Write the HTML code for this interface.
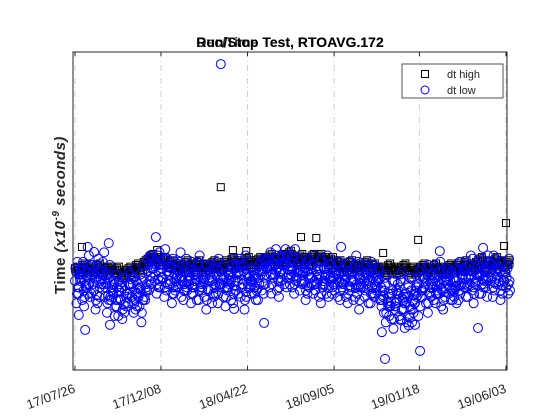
<!DOCTYPE html>
<html><head><meta charset="utf-8"><style>
body{margin:0;background:#fff;width:560px;height:420px;overflow:hidden}
svg{display:block;font-family:"Liberation Sans",sans-serif}
</style></head><body>
<svg id="c" width="560" height="420">
<rect x="0" y="0" width="560" height="420" fill="#fff"/>
<g id="grid"></g>
<g id="high"></g>
<g id="low"></g>
<rect x="73" y="52" width="434" height="318" fill="none" stroke="#262626" stroke-width="1"/>
<g id="xt"></g>
<text x="290" y="47" text-anchor="middle" font-size="14" font-weight="bold" fill="#000">Run/Stop Test, RTOAVG.172</text>
<text x="290" y="47" text-anchor="middle" font-size="14" font-weight="bold" fill="#000" opacity="0.8">Dec/Time Test, RTOAVG.172</text>
<text transform="translate(65,215) rotate(-90)" text-anchor="middle" font-size="15" font-weight="bold" fill="#262626" letter-spacing="0.5">Time  <tspan font-style="italic">(x10<tspan dy="-6" font-size="10">-9</tspan><tspan dy="6"> seconds)</tspan></tspan></text>
<g>
<rect x="402" y="64" width="101" height="34" fill="#fff" stroke="#262626" stroke-width="0.8"/>
<rect x="421.5" y="70.5" width="7" height="7" fill="none" stroke="#000"/>
<text x="447" y="78" font-size="11" fill="#262626">dt high</text>
<circle cx="425" cy="90" r="4" fill="none" stroke="#00f"/>
<text x="447" y="94" font-size="11" fill="#262626">dt low</text>
</g>
</svg>
<script>
const tickDays=[0,135,271,407,541,677];
const tickLabels=["17/07/26","17/12/08","18/04/22","18/09/05","19/01/18","19/06/03"];
const blueA=[28,26,30,27,29,25,31,27,26,29,24,26,22,25,27,23,24,26,29,31,32,30,33,29,31,28,30,27,29,31,28,26,30,27,29,25,28,30,27,29,26,29,28,31,27,30,28,26,29,31,30,33,29,32,31,34,30,32,29,31,28,31,29,27,30,28,32,29,27,30,27,29,26,28,30,27,25,28,29,26,22,25,20,24,21,26,19,23,25,21,27,25,28,26,29,24,27,28,26,25,28,30,27,29,31,28,30,27,32,29,31,28,30,29];
const blueB=[24,31,23,27,33,22,26,30,21,25,20,28,19,23,30,21,27,18,25,28,35,27,31,26,34,24,29,32,25,28,24,31,25,29,22,33,26,24,30,23,30,24,33,26,22,29,31,25,34,27,35,27,33,26,36,29,32,27,34,30,25,33,27,30,24,32,26,29,33,25,30,24,31,26,22,29,33,24,27,31,25,18,23,16,27,19,24,17,22,26,23,29,21,30,24,27,22,31,25,28,25,32,26,30,24,33,27,29,34,26,32,25,31,27];
const blueC=[31,29,25,33,24,30,28,34,27,23,27,22,26,21,24,29,20,25,23,33,29,33,26,35,27,32,25,34,28,26,31,27,33,25,30,28,24,32,29,26,28,32,25,30,33,27,24,29,27,32,32,30,35,28,30,33,27,35,31,28,31,26,33,29,32,27,30,24,31,28,25,31,28,33,26,30,27,31,23,29,20,27,17,25,22,28,21,26,15,24,29,26,30,23,27,31,25,29,28,23,31,27,29,33,26,30,32,28,29,33,27,31,28,32];
const highA=[32,31,33,32,31,32,33,31,32,32,31,32,30,31,32,31,33,32,34,35,36,35,34,35,33,34,33,32,33,34,33,32,34,33,32,33,34,33,32,34,33,35,34,33,34,35,33,34,35,34,35,36,35,34,36,35,37,35,34,36,35,34,36,35,36,35,34,35,33,34,33,32,34,33,32,33,34,32,33,32,32,31,33,32,31,32,33,31,32,31,32,33,31,32,33,32,31,32,33,32,33,32,34,33,32,34,35,33,34,33,35,34,33,34];
const highOutDays=[11,129,248,269,355,379,539,677,674,484,229];
const highOutVals=[38.7,37.7,37.7,37.4,41.8,41.5,40.9,46.2,39,36.8,57.5];
const lowOutDays=[229,53,20,30,16,6,55,68,127,482,487,542,633,297,250,418,573,641,503,511,526,518,534];
const lowOutVals=[96.2,39.9,38.7,37.1,12.6,17.3,14.2,17,41.8,11.9,3.5,6,13.2,14.8,19.2,38.7,37.4,38.4,18.9,15.7,16.4,13.2,14.2];
const NS="http://www.w3.org/2000/svg";
const X=d=>75+(d/677)*431;
const Y=v=>370-v*3.18;
function mk(t,a,p){const e=document.createElementNS(NS,t);for(const k in a)e.setAttribute(k,a[k]);p.appendChild(e);return e;}
const grid=document.getElementById('grid'),xt=document.getElementById('xt');
tickDays.forEach((d,i)=>{
 const l=mk('line',{x1:X(d),x2:X(d),y1:52,y2:370,stroke:'#d0d0d0','stroke-dasharray':'6,3,1,3'},grid);
 
 const t1=mk('line',{x1:X(d),x2:X(d),y1:370,y2:366,stroke:'#262626'},xt);
 
 const t2=mk('line',{x1:X(d),x2:X(d),y1:52,y2:56,stroke:'#262626'},xt);
 
 const tx=mk('text',{x:X(d)+1,y:392,'text-anchor':'end','font-size':13,fill:'#262626',transform:`rotate(-20 ${X(d)+1} 392)`},xt);
 tx.textContent=tickLabels[i];
 
});
const high=document.getElementById('high'),low=document.getElementById('low');
function sq(d,v){const e=mk('rect',{x:X(d)-3.5,y:Y(v)-3.5,width:7,height:7,fill:'none',stroke:'#000','stroke-width':1},high);
 }
function ci(d,v){const e=mk('circle',{cx:X(d),cy:Y(v),r:4.5,fill:'none',stroke:'#00f','stroke-width':1},low);
 }
highA.forEach((v,i)=>{sq(i*6,v);sq(i*6+1.5,v-1);sq(i*6+3,v+0.5);sq(i*6+4.5,v-0.5);});
highOutDays.forEach((d,i)=>sq(d,highOutVals[i]));
blueA.forEach((v,i)=>{
 ci(i*6,v);ci(i*6+3,blueB[i]);ci(i*6+1.5,blueC[i]);ci(i*6+4.5,(blueA[i]+blueB[i])/2);
 ci(i*6+0.75,blueA[i]+4);ci(i*6+2.25,blueB[i]-3);ci(i*6+3.75,blueC[i]+3);ci(i*6+5.25,blueA[i]-4);
});
lowOutDays.forEach((d,i)=>ci(d,lowOutVals[i]));
</script>
</body></html>
